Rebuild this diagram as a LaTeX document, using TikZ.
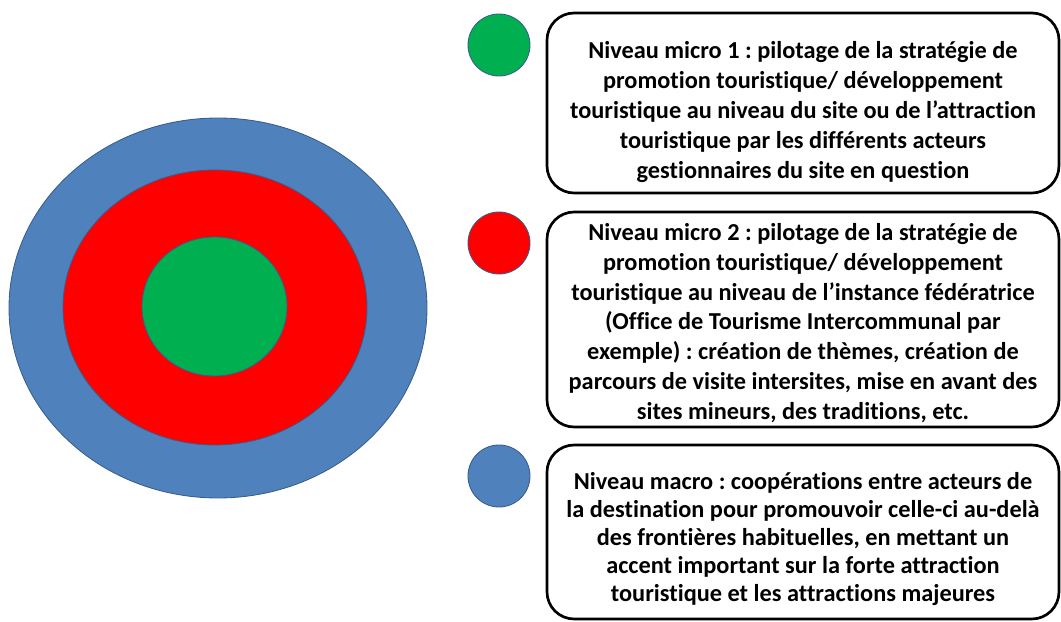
\documentclass[tikz,border=0pt]{standalone}
\usepackage{fontspec}
\setmainfont[Ligatures=NoCommon]{Carlito}
\usepackage{tikz}
\usetikzlibrary{positioning}
\definecolor{macro}{RGB}{79,129,189}
\definecolor{microtwo}{RGB}{255,0,0}
\definecolor{microone}{RGB}{0,176,80}
\definecolor{rim}{RGB}{56,93,138}
\frenchspacing

\begin{document}
\begin{tikzpicture}[x=0.025cm, y=-0.025cm,
    ring/.style={draw=rim, line width=0.6pt},
    dot/.style={circle, draw=rim, line width=0.6pt, minimum size=1.55cm, inner sep=0pt},
    panel/.style={draw=black, line width=1.9pt, rounded corners=0.68cm},
    legend/.style={font=\bfseries\fontsize{17.3}{21.2}\selectfont, align=center, text=black}]
    % Canvas
    \useasboundingbox (0,0) rectangle (1061,622);
    \clip (0,0) rectangle (1061,622);

    % Nested levels
    \filldraw[ring, fill=macro] (218,308) ellipse [x radius=209, y radius=190];
    \filldraw[ring, fill=microtwo] (215,307.5) ellipse [x radius=152, y radius=137.5];
    \filldraw[ring, fill=microone] (214.5,306.5) ellipse [x radius=72.5, y radius=69.5];

    % Key dots
    \node[dot, fill=microone] (dotone) at (499,45) {};
    \node[dot, fill=microtwo] (dottwo) at (499,243) {};
    \node[dot, fill=macro] (dotmacro) at (499,476) {};

    % Panels
    \draw[panel] (547,13) rectangle (1059,193);
    \draw[panel] (547,212) rectangle (1059,427);
    \draw[panel] (547,445) rectangle (1059,619);

    % Texts
    \node[legend] (txtone) at (803,112) {Niveau micro 1 : pilotage de la stratégie de\\
        promotion touristique/ développement\\
        touristique au niveau du site ou de l’attraction\\
        touristique par les différents acteurs\\
        gestionnaires du site en question};
    \node[legend] (txttwo) at (803,323) {Niveau micro 2 : pilotage de la stratégie de\\
        promotion touristique/ développement\\
        touristique au niveau de l’instance fédératrice\\
        (Office de Tourisme Intercommunal par\\
        exemple) : création de thèmes, création de\\
        parcours de visite intersites, mise en avant des\\
        sites mineurs, des traditions, etc.};
    \node[legend, font=\bfseries\fontsize{17.3}{19.9}\selectfont] (txtmacro) at (803,539)
        {Niveau macro : coopérations entre acteurs de\\
        la destination pour promouvoir celle-ci au-delà\\
        des frontières habituelles, en mettant un\\
        accent important sur la forte attraction\\
        touristique et les attractions majeures};
\end{tikzpicture}
\end{document}
